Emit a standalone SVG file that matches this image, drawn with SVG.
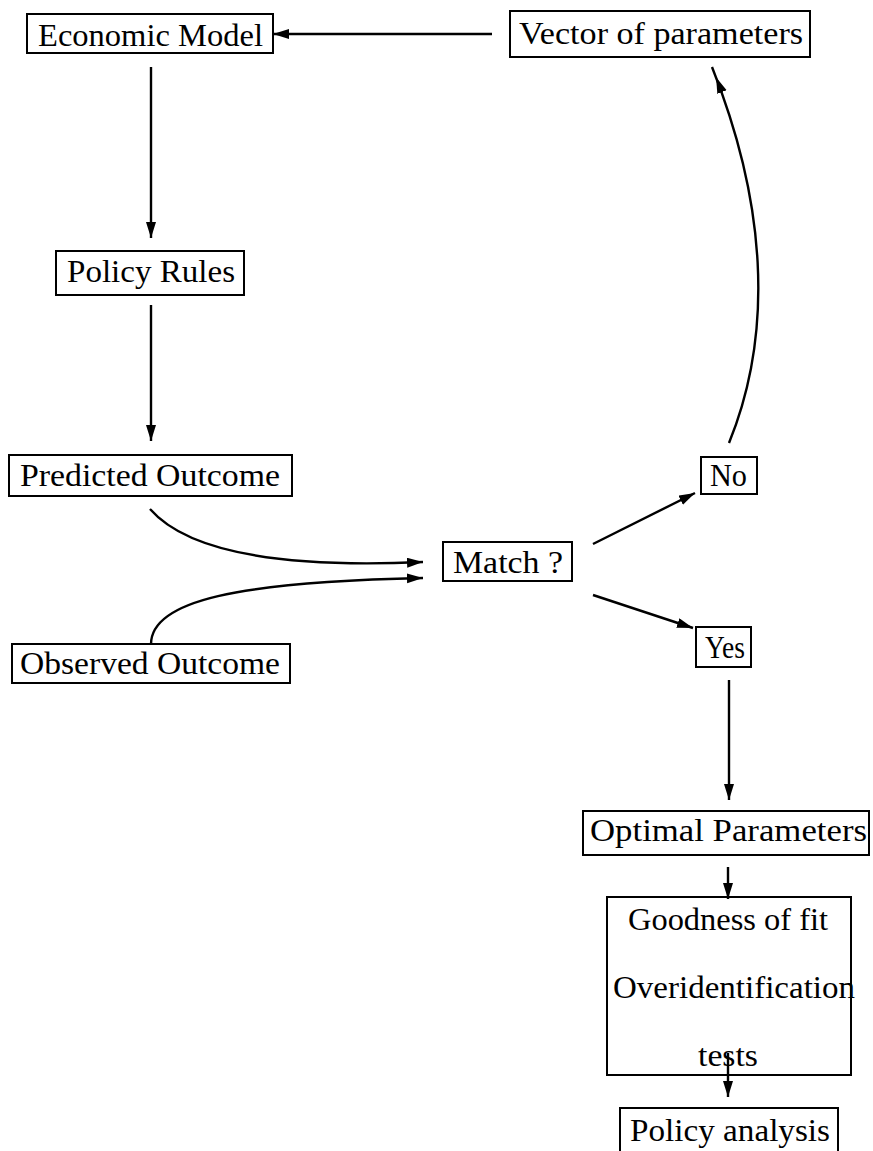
<svg xmlns="http://www.w3.org/2000/svg" width="873" height="1151" viewBox="0 0 873 1151">
<style>
.box{fill:none;stroke:#000;stroke-width:2}
.lbl{font-size:32px;fill:#000}
.edge{fill:none;stroke:#000;stroke-width:2.4}
</style>
<defs>
<marker id="ah" markerUnits="userSpaceOnUse" markerWidth="18" markerHeight="12" refX="16" refY="5" orient="auto">
<path d="M0,0 L16,5 L0,10 z" fill="#000"/>
</marker>
<marker id="ahInset" markerUnits="userSpaceOnUse" markerWidth="30" markerHeight="12" refX="27" refY="5" orient="auto">
<path d="M0,0 L16,5 L0,10 z" fill="#000"/>
</marker>
</defs>
<rect width="873" height="1151" fill="#fff"/>
<g id="connectors">
<line class="edge" x1="492" y1="34" x2="273" y2="34" marker-end="url(#ah)"/>
<line class="edge" x1="151" y1="67" x2="151" y2="238" marker-end="url(#ah)"/>
<line class="edge" x1="151" y1="305" x2="151" y2="441" marker-end="url(#ah)"/>
<path class="edge" d="M150,509 C190,555 290,568 423,562" marker-end="url(#ah)"/>
<path class="edge" d="M151,645 C150,600 240,582 423,578" marker-end="url(#ah)"/>
<line class="edge" x1="593" y1="544" x2="695" y2="493" marker-end="url(#ah)"/>
<line class="edge" x1="593" y1="595" x2="693" y2="628" marker-end="url(#ah)"/>
<path class="edge" d="M729,443 C775,330 765,200 712,67" marker-end="url(#ahInset)"/>
<line class="edge" x1="729" y1="680" x2="729" y2="800" marker-end="url(#ah)"/>
<line class="edge" x1="728" y1="867" x2="728" y2="899" marker-end="url(#ah)"/>
<line class="edge" x1="728" y1="1053" x2="728" y2="1097" marker-end="url(#ah)"/>
</g>
<g font-family="Liberation Serif, DejaVu Serif, serif">
<g id="economic-model">
<rect class="box" x="27" y="14" width="246" height="39"/>
<text class="lbl" x="38" y="46" textLength="225" lengthAdjust="spacingAndGlyphs">Economic Model</text>
</g>
<g id="vector-of-parameters">
<rect class="box" x="510" y="11" width="300" height="46"/>
<text class="lbl" x="519" y="44" textLength="284" lengthAdjust="spacingAndGlyphs">Vector of parameters</text>
</g>
<g id="policy-rules">
<rect class="box" x="56" y="251" width="188" height="44"/>
<text class="lbl" x="67" y="282" textLength="168" lengthAdjust="spacingAndGlyphs">Policy Rules</text>
</g>
<g id="predicted-outcome">
<rect class="box" x="9" y="455" width="283" height="41"/>
<text class="lbl" x="20" y="486" textLength="260" lengthAdjust="spacingAndGlyphs">Predicted Outcome</text>
</g>
<g id="observed-outcome">
<rect class="box" x="12" y="644" width="278" height="39"/>
<text class="lbl" x="20" y="674" textLength="260" lengthAdjust="spacingAndGlyphs">Observed Outcome</text>
</g>
<g id="match">
<rect class="box" x="443" y="542" width="129" height="39"/>
<text class="lbl" x="453" y="573" textLength="110" lengthAdjust="spacingAndGlyphs">Match ?</text>
</g>
<g id="no">
<rect class="box" x="701" y="457" width="56" height="37"/>
<text class="lbl" x="710" y="486" textLength="37" lengthAdjust="spacingAndGlyphs">No</text>
</g>
<g id="yes">
<rect class="box" x="696" y="627" width="55" height="40"/>
<text class="lbl" x="705" y="658" textLength="40" lengthAdjust="spacingAndGlyphs">Yes</text>
</g>
<g id="optimal-parameters">
<rect class="box" x="583" y="811" width="286" height="44"/>
<text class="lbl" x="590" y="841" textLength="277" lengthAdjust="spacingAndGlyphs">Optimal Parameters</text>
</g>
<g id="goodness-of-fit">
<rect class="box" x="607" y="897" width="244" height="178"/>
<text class="lbl" x="628" y="930" textLength="200" lengthAdjust="spacingAndGlyphs">Goodness of fit</text>
<text class="lbl" x="613" y="998" textLength="242" lengthAdjust="spacingAndGlyphs">Overidentification</text>
<text class="lbl" x="698" y="1066" textLength="60" lengthAdjust="spacingAndGlyphs">tests</text>
</g>
<g id="policy-analysis">
<rect class="box" x="620" y="1108" width="218" height="60"/>
<text class="lbl" x="630" y="1141" textLength="200" lengthAdjust="spacingAndGlyphs">Policy analysis</text>
</g>
</g>
</svg>
